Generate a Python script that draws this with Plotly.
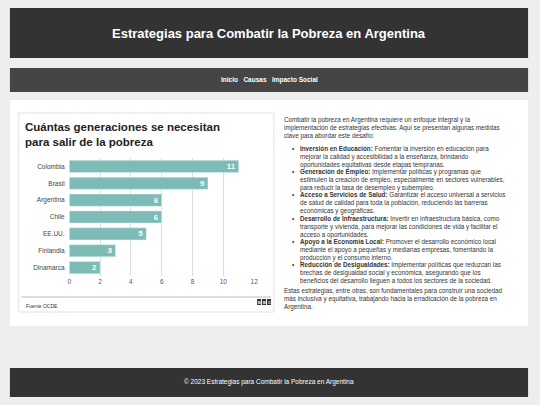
import plotly.graph_objects as go

W, H = 540, 405

countries = ["Colombia", "Brasil", "Argentina", "Chile", "EE.UU.", "Finlandia", "Dinamarca"]
generations = [11, 9, 6, 6, 5, 3, 2]
x_ticks = [0, 2, 4, 6, 8, 10, 12]

intro = ("Combatir la pobreza en Argentina requiere un enfoque integral y la<br>"
         "implementación de estrategias efectivas. Aquí se presentan algunas medidas<br>"
         "clave para abordar este desafío:")
bullets = [
    ("Inversión en Educación:", " Fomentar la inversión en educación para<br>mejorar la calidad y accesibilidad a la enseñanza, brindando<br>oportunidades equitativas desde etapas tempranas."),
    ("Generación de Empleo:", " Implementar políticas y programas que<br>estimulen la creación de empleo, especialmente en sectores vulnerables,<br>para reducir la tasa de desempleo y subempleo."),
    ("Acceso a Servicios de Salud:", " Garantizar el acceso universal a servicios<br>de salud de calidad para toda la población, reduciendo las barreras<br>económicas y geográficas."),
    ("Desarrollo de Infraestructura:", " Invertir en infraestructura básica, como<br>transporte y vivienda, para mejorar las condiciones de vida y facilitar el<br>acceso a oportunidades."),
    ("Apoyo a la Economía Local:", " Promover el desarrollo económico local<br>mediante el apoyo a pequeñas y medianas empresas, fomentando la<br>producción y el consumo interno."),
    ("Reducción de Desigualdades:", " Implementar políticas que reduzcan las<br>brechas de desigualdad social y económica, asegurando que los<br>beneficios del desarrollo lleguen a todos los sectores de la sociedad."),
]
outro = ("Estas estrategias, entre otras, son fundamentales para construir una sociedad<br>"
         "más inclusiva y equitativa, trabajando hacia la erradicación de la pobreza en<br>"
         "Argentina.")


def px_x(v):
    return v / W


def px_y(v):
    return 1 - v / H


fig = go.Figure()
fig.add_trace(go.Bar(
    x=generations, y=countries, orientation="h",
    marker_color="#7dbbb5", width=0.72,
    text=["<b>%d</b>" % g for g in generations], textposition="inside",
    insidetextanchor="end", textangle=0, constraintext="none",
    textfont=dict(color="white", size=8, family="Arial"),
    hoverinfo="skip",
))

shapes = []


def rect(x0, y0, x1, y1, fill, line=None):
    shapes.append(dict(type="rect", xref="paper", yref="paper", layer="below",
                       x0=px_x(x0), x1=px_x(x1), y0=px_y(y1), y1=px_y(y0),
                       fillcolor=fill, line=dict(width=1 if line else 0, color=line or fill)))


rect(8, 8, 532, 58, "#333333")
rect(8, 68, 532, 92, "#454545")
rect(8, 100, 532, 326, "#ffffff")
rect(17, 113, 275, 312, "#ffffff", "#e2e2e2")
rect(8, 368, 532, 397, "#333333")
shapes.append(dict(type="line", xref="paper", yref="paper", x0=px_x(20), x1=px_x(272),
                   y0=px_y(297), y1=px_y(297), line=dict(color="#bbbbbb", width=1)))
for i, ch in enumerate("BBC"):
    rect(258 + i * 5, 299, 262 + i * 5, 305, "#333333")

ann = []


def text(x, y, s, size=6, color="#333", bold=False, xanchor="left", yanchor="top", align="left"):
    if bold:
        s = "<b>" + s + "</b>"
    ann.append(dict(x=px_x(x), y=px_y(y), xref="paper", yref="paper", text=s, showarrow=False,
                    xanchor=xanchor, yanchor=yanchor, align=align,
                    font=dict(size=size, color=color, family="Arial")))


text(270, 33, "Estrategias para Combatir la Pobreza en Argentina", 13, "white", True, "center", "middle")
text(270, 80, "Inicio&nbsp;&nbsp;&nbsp;Causas&nbsp;&nbsp;&nbsp;Impacto Social", 6.5, "white", True, "center", "middle")
text(270, 382, "© 2023 Estrategias para Combatir la Pobreza en Argentina", 6.5, "white", False, "center", "middle")
text(21, 119, "Cuántas generaciones se necesitan<br>para salir de la pobreza", 11.5, "#222", True)
text(22, 301, "Fuente OCDE", 5, "#333")
for i, ch in enumerate("BBC"):
    text(260 + i * 5, 302, ch, 4, "white", True, "center", "middle")

text(283, 114, intro, 6.3)
for i, (b, t) in enumerate(bullets):
    y = 143 + i * 23.2
    text(291, y, "•", 6.3)
    text(299, y, "<b>" + b + "</b>" + t, 6.3)
text(283, 285, outro, 6.3)

fig.update_layout(
    width=W, height=H, margin=dict(l=0, r=0, t=0, b=0),
    paper_bgcolor="#eeeeee", plot_bgcolor="white",
    shapes=shapes, annotations=ann, showlegend=False,
    xaxis=dict(domain=[px_x(68), px_x(255)], range=[0, 12], tickvals=x_ticks,
               showgrid=True, gridcolor="#dddddd", zeroline=False,
               tickfont=dict(size=6.5, color="#555", family="Arial"), fixedrange=True),
    yaxis=dict(domain=[px_y(276), px_y(158)], autorange="reversed",
               tickfont=dict(size=6.5, color="#444", family="Arial"), ticksuffix="  ",
               fixedrange=True),
)

fig.write_html("out.html", config={"displayModeBar": False},
               post_script="document.body.style.margin='0';")
